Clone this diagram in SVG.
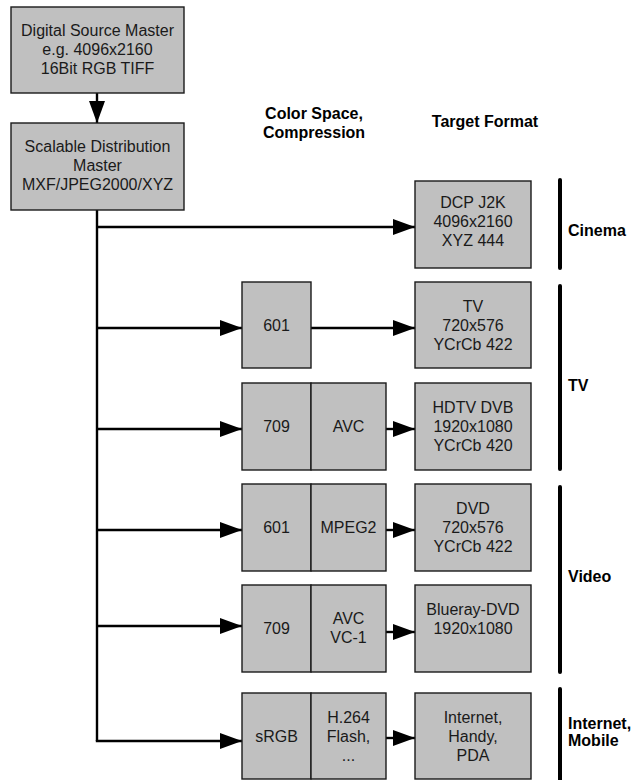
<svg xmlns="http://www.w3.org/2000/svg" width="633" height="780" viewBox="0 0 633 780">
<defs>
<style>
.box{fill:#c0c0c0;stroke:#1a1a1a;stroke-width:1.4}
.t{font-family:"Liberation Sans",Arial,sans-serif;font-size:16px;fill:#1a1a1a;text-anchor:middle}
.h{font-family:"Liberation Sans",Arial,sans-serif;font-size:16px;font-weight:bold;fill:#000}
.c{stroke:#000;stroke-width:2.4;fill:none}
.bar{stroke:#000;stroke-width:4;stroke-linecap:round}
</style>
<marker id="ah" markerUnits="userSpaceOnUse" markerWidth="22" markerHeight="18" refX="22" refY="8" orient="auto">
<path d="M0,0 L22,8 L0,16 Z" fill="#000"/>
</marker>
</defs>
<g id="connectors">
<line class="c" x1="97" y1="93" x2="97" y2="123" marker-end="url(#ah)"/>
<polyline class="c" points="97,210 97,741"/>
<line class="c" x1="96" y1="227" x2="415" y2="227" marker-end="url(#ah)"/>
<line class="c" x1="96" y1="328" x2="242" y2="328" marker-end="url(#ah)"/>
<line class="c" x1="311" y1="328" x2="415" y2="328" marker-end="url(#ah)"/>
<line class="c" x1="96" y1="429" x2="242" y2="429" marker-end="url(#ah)"/>
<line class="c" x1="386" y1="429" x2="415" y2="429" marker-end="url(#ah)"/>
<line class="c" x1="96" y1="530" x2="242" y2="530" marker-end="url(#ah)"/>
<line class="c" x1="386" y1="530" x2="415" y2="530" marker-end="url(#ah)"/>
<line class="c" x1="96" y1="626" x2="242" y2="626" marker-end="url(#ah)"/>
<line class="c" x1="386" y1="632" x2="415" y2="632" marker-end="url(#ah)"/>
<polyline class="c" points="97,740 97,741 242,741" marker-end="url(#ah)"/>
<line class="c" x1="386" y1="738" x2="415" y2="738" marker-end="url(#ah)"/>
</g>
<g id="src">
<rect class="box" x="11" y="7" width="173" height="86"/>
<text class="t" x="97.5" y="36">Digital Source Master</text>
<text class="t" x="97.5" y="55">e.g. 4096x2160</text>
<text class="t" x="97.5" y="74">16Bit RGB TIFF</text>
</g>
<g id="dist">
<rect class="box" x="11" y="123" width="173" height="87"/>
<text class="t" x="97.5" y="152">Scalable Distribution</text>
<text class="t" x="97.5" y="171">Master</text>
<text class="t" x="97.5" y="190">MXF/JPEG2000/XYZ</text>
</g>
<g id="headers">
<text class="h" x="314" y="119" text-anchor="middle">Color Space,</text>
<text class="h" x="314" y="138" text-anchor="middle">Compression</text>
<text class="h" x="485" y="127" text-anchor="middle">Target Format</text>
</g>
<g id="dcp">
<rect class="box" x="415" y="181" width="116" height="87"/>
<text class="t" x="473" y="208">DCP J2K</text>
<text class="t" x="473" y="227">4096x2160</text>
<text class="t" x="473" y="246">XYZ 444</text>
</g>
<g id="cs601tv">
<rect class="box" x="242" y="282" width="69" height="86"/>
<text class="t" x="276.5" y="331">601</text>
</g>
<g id="tv">
<rect class="box" x="415" y="282" width="116" height="86"/>
<text class="t" x="473" y="312">TV</text>
<text class="t" x="473" y="331">720x576</text>
<text class="t" x="473" y="350">YCrCb 422</text>
</g>
<g id="cs709avc">
<rect class="box" x="242" y="383" width="69" height="87"/>
<rect class="box" x="311" y="383" width="75" height="87"/>
<text class="t" x="276.5" y="432">709</text>
<text class="t" x="348.5" y="432">AVC</text>
</g>
<g id="hdtv">
<rect class="box" x="415" y="383" width="116" height="87"/>
<text class="t" x="473" y="413">HDTV DVB</text>
<text class="t" x="473" y="432">1920x1080</text>
<text class="t" x="473" y="451">YCrCb 420</text>
</g>
<g id="cs601mpeg2">
<rect class="box" x="242" y="484" width="69" height="87"/>
<rect class="box" x="311" y="484" width="75" height="87"/>
<text class="t" x="276.5" y="533">601</text>
<text class="t" x="348.5" y="533">MPEG2</text>
</g>
<g id="dvd">
<rect class="box" x="415" y="484" width="116" height="87"/>
<text class="t" x="473" y="514">DVD</text>
<text class="t" x="473" y="533">720x576</text>
<text class="t" x="473" y="552">YCrCb 422</text>
</g>
<g id="cs709vc1">
<rect class="box" x="242" y="585" width="69" height="87"/>
<rect class="box" x="311" y="585" width="75" height="87"/>
<text class="t" x="276.5" y="634">709</text>
<text class="t" x="348.5" y="624">AVC</text>
<text class="t" x="348.5" y="643">VC-1</text>
</g>
<g id="bluray">
<rect class="box" x="415" y="585" width="116" height="87"/>
<text class="t" x="473" y="615">Blueray-DVD</text>
<text class="t" x="473" y="634">1920x1080</text>
</g>
<g id="cssrgb">
<rect class="box" x="242" y="693" width="69" height="86"/>
<rect class="box" x="311" y="693" width="75" height="86"/>
<text class="t" x="276.5" y="742">sRGB</text>
<text class="t" x="348.5" y="723">H.264</text>
<text class="t" x="348.5" y="742">Flash,</text>
<text class="t" x="348.5" y="761">...</text>
</g>
<g id="internet">
<rect class="box" x="415" y="693" width="116" height="86"/>
<text class="t" x="473" y="723">Internet,</text>
<text class="t" x="473" y="742">Handy,</text>
<text class="t" x="473" y="761">PDA</text>
</g>
<g id="categories">
<line class="bar" x1="560" y1="180" x2="560" y2="268"/>
<text class="h" x="568" y="236">Cinema</text>
<line class="bar" x1="560" y1="286" x2="560" y2="469"/>
<text class="h" x="568" y="391">TV</text>
<line class="bar" x1="560" y1="487" x2="560" y2="672"/>
<text class="h" x="568" y="582">Video</text>
<line class="bar" x1="560" y1="689" x2="560" y2="782"/>
<text class="h" x="568" y="729">Internet,</text>
<text class="h" x="568" y="746">Mobile</text>
</g>
</svg>
